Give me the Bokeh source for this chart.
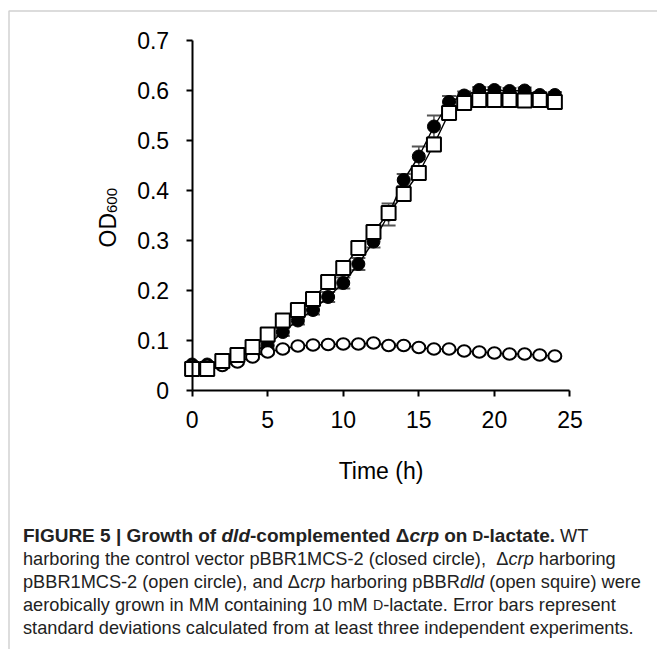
import math
from bokeh.plotting import figure
from bokeh.models import (Label, Range1d, FixedTicker, PolyAnnotation, Whisker,
                          ColumnDataSource, TeeHead, CustomJSTickFormatter)
from bokeh.embed import file_html
from bokeh.resources import INLINE

# ---------------- data ----------------
time_h = list(range(25))
wt_closed = [0.052, 0.052, 0.054, 0.064, 0.079, 0.090, 0.117, 0.140, 0.161, 0.187,
             0.215, 0.253, 0.298, 0.352, 0.421, 0.468, 0.528, 0.577, 0.590, 0.601,
             0.601, 0.599, 0.600, 0.591, 0.591]
wt_err = [0.004, 0.004, 0.004, 0.005, 0.006, 0.007, 0.008, 0.008, 0.009, 0.010,
          0.011, 0.012, 0.012, 0.022, 0.012, 0.020, 0.022, 0.012, 0.008, 0.006,
          0.006, 0.006, 0.006, 0.006, 0.006]
crp_open = [0.050, 0.050, 0.050, 0.057, 0.067, 0.077, 0.083, 0.089, 0.091, 0.092,
            0.093, 0.093, 0.095, 0.090, 0.090, 0.086, 0.083, 0.083, 0.079, 0.077,
            0.075, 0.073, 0.073, 0.071, 0.069]
crp_err = [0.003] * 25
dld_square = [0.043, 0.043, 0.059, 0.071, 0.087, 0.112, 0.140, 0.161, 0.183, 0.217,
              0.245, 0.285, 0.317, 0.355, 0.393, 0.435, 0.492, 0.555, 0.575, 0.581,
              0.581, 0.581, 0.580, 0.581, 0.577]
dld_err = [0.004, 0.004, 0.004, 0.005, 0.005, 0.006, 0.007, 0.007, 0.008, 0.008,
           0.009, 0.010, 0.010, 0.012, 0.012, 0.012, 0.012, 0.010, 0.008, 0.006,
           0.006, 0.006, 0.006, 0.006, 0.006]
x_ticks = [0, 5, 10, 15, 20, 25]
y_ticks = [0, 0.1, 0.2, 0.3, 0.4, 0.5, 0.6, 0.7]

# ---------------- layout constants ----------------
W, H = 657, 649
X0, SX = 191.6, 15.115      # pixel of x = 0, pixels per hour
Y0, SY = 390.0, 500.0       # pixel of y = 0, pixels per OD unit


def dx(px):
    return (px - X0) / SX


def dy(py):
    return (Y0 - py) / SY


FONT = "Liberation Sans"

p = figure(width=W, height=H, output_backend="svg", toolbar_location=None,
           x_range=Range1d(dx(0), dx(W)), y_range=Range1d(dy(H), dy(0)),
           min_border=0, min_border_left=0, min_border_right=0,
           min_border_top=0, min_border_bottom=0)
p.xgrid.visible = False
p.ygrid.visible = False
p.outline_line_color = None
p.background_fill_color = "white"
p.border_fill_color = "white"

for ax in (p.xaxis[0], p.yaxis[0]):
    ax.axis_line_width = 2
    ax.axis_line_color = "black"
    ax.major_tick_line_width = 2
    ax.major_tick_line_color = "black"
    ax.major_tick_out = 6
    ax.major_tick_in = 0
    ax.minor_tick_line_color = None
    ax.major_label_text_font = FONT
    ax.major_label_text_font_size = "23px"
    ax.major_label_text_color = "black"
    ax.fixed_location = 0

p.xaxis.bounds = (0, 25)
p.xaxis.ticker = FixedTicker(ticks=x_ticks)
p.xaxis.major_label_standoff = 14
p.yaxis.bounds = (0, 0.7)
p.yaxis.ticker = FixedTicker(ticks=y_ticks)
p.yaxis.formatter = CustomJSTickFormatter(
    code="return Math.abs(tick) < 1e-9 ? '0' : tick.toFixed(1);")
p.yaxis.major_label_standoff = 17

# error bars
for vals, errs in ((wt_closed, wt_err), (crp_open, crp_err), (dld_square, dld_err)):
    src = ColumnDataSource(dict(t=time_h,
                                up=[v + e for v, e in zip(vals, errs)],
                                lo=[v - e for v, e in zip(vals, errs)]))
    wk = Whisker(base="t", upper="up", lower="lo", source=src,
                 line_color="#555555", line_width=1.5, level="underlay",
                 upper_head=TeeHead(size=14, line_color="#555555", line_width=2),
                 lower_head=TeeHead(size=14, line_color="#555555", line_width=2))
    p.add_layout(wk)

# lines
for vals in (wt_closed, crp_open, dld_square):
    p.line(time_h, vals, line_color="black", line_width=1.4)

p.scatter(time_h, wt_closed, marker="circle", size=13, fill_color="black",
          line_color="black", line_width=1)
p.ellipse(time_h, crp_open, width=13, height=11.5, width_units="screen",
          height_units="screen", fill_color="white", line_color="black",
          line_width=2)
p.scatter(time_h, dld_square, marker="square", size=14, fill_color="white",
          line_color="black", line_width=2)

# axis titles
p.add_layout(Label(x=12.5, y=dy(470), text="Time (h)", text_font=FONT,
                   text_font_size="23px", text_align="center",
                   text_baseline="alphabetic", text_color="black"))
p.add_layout(Label(x=dx(107), y=dy(247), text="OD", text_font=FONT,
                   text_font_size="23px", angle=math.pi / 2, text_align="left",
                   text_baseline="alphabetic", text_color="black"))
p.add_layout(Label(x=dx(111), y=dy(247 - 34.5), text="600", text_font=FONT,
                   text_font_size="15px", angle=math.pi / 2, text_align="left",
                   text_baseline="alphabetic", text_color="black"))

# outer frame lines (top and left)
p.add_layout(PolyAnnotation(xs=[dx(8.5), dx(8.5), dx(760), dx(760)],
                            ys=[dy(760), dy(10.5), dy(10.5), dy(760)],
                            fill_color=None, fill_alpha=0, line_color="#666666",
                            line_width=1.5, level="overlay"))

# ---------------- caption ----------------
REG = {' ': 278, '!': 278, '(': 333, ')': 333, ',': 278, '-': 333, '.': 278, '|': 260,
       'A': 667, 'B': 667, 'C': 722, 'D': 722, 'E': 667, 'F': 611, 'G': 778, 'H': 722,
       'I': 278, 'J': 500, 'K': 667, 'L': 556, 'M': 833, 'N': 722, 'O': 778, 'P': 667,
       'Q': 778, 'R': 722, 'S': 667, 'T': 611, 'U': 722, 'V': 667, 'W': 944, 'X': 667,
       'Y': 667, 'Z': 611, 'a': 556, 'b': 556, 'c': 500, 'd': 556, 'e': 556, 'f': 278,
       'g': 556, 'h': 556, 'i': 222, 'j': 222, 'k': 500, 'l': 222, 'm': 833, 'n': 556,
       'o': 556, 'p': 556, 'q': 556, 'r': 333, 's': 500, 't': 278, 'u': 556, 'v': 500,
       'w': 722, 'x': 500, 'y': 500, 'z': 500, '\u0394': 667}
BOLD = {' ': 278, '(': 333, ')': 333, ',': 278, '-': 333, '.': 278, '|': 280,
        'A': 722, 'B': 722, 'C': 722, 'D': 722, 'E': 667, 'F': 611, 'G': 778, 'H': 722,
        'I': 278, 'J': 556, 'K': 722, 'L': 611, 'M': 833, 'N': 722, 'O': 778, 'P': 667,
        'Q': 778, 'R': 722, 'S': 667, 'T': 611, 'U': 722, 'V': 667, 'W': 944, 'X': 667,
        'Y': 667, 'Z': 611, 'a': 556, 'b': 611, 'c': 556, 'd': 611, 'e': 556, 'f': 333,
        'g': 611, 'h': 611, 'i': 278, 'j': 278, 'k': 556, 'l': 278, 'm': 889, 'n': 611,
        'o': 611, 'p': 611, 'q': 611, 'r': 389, 's': 556, 't': 333, 'u': 611, 'v': 556,
        'w': 778, 'x': 556, 'y': 556, 'z': 500, '\u0394': 722}


def text_width(s, bold, size):
    table = BOLD if bold else REG
    return sum(table.get(c, 556) for c in s) / 1000.0 * size


RS = 18.2   # regular caption size
BS = 19.0   # bold caption size
SC = 0.78   # small-caps ratio

caption_lines = [
    (535, [("FIGURE 5 | Growth of", True, False, BS),
           (" dld", True, True, BS),
           ("-complemented \u0394", True, False, BS),
           ("crp", True, True, BS),
           (" on", True, False, BS),
           (" D", True, False, BS * SC),
           ("-lactate.", True, False, BS),
           (" WT", False, False, RS)]),
    (558, [("harboring the control vector pBBR1MCS-2 (closed circle),", False, False, RS),
           ("  \u0394", False, False, RS),
           ("crp", False, True, RS),
           (" harboring", False, False, RS)]),
    (581, [("pBBR1MCS-2 (open circle), and \u0394", False, False, RS),
           ("crp", False, True, RS),
           (" harboring pBBR", False, False, RS),
           ("dld", False, True, RS),
           (" (open squire) were", False, False, RS)]),
    (604, [("aerobically grown in MM containing 10 mM", False, False, RS),
           (" D", False, False, RS * SC),
           ("-lactate. Error bars represent", False, False, RS)]),
    (627, [("standard deviations calculated from at least three independent experiments.",
            False, False, RS)]),
]

for base_y, segs in caption_lines:
    xpos = 22.5
    for txt, bold, ital, size in segs:
        style = ("bold " if bold else "") + ("italic" if ital else "")
        style = style.strip() or "normal"
        body = txt.lstrip(" ")
        lead = len(txt) - len(body)
        # spaces are measured at the surrounding text size
        lead_w = text_width(" " * lead, bold, RS if size < RS * 0.9 else size)
        p.add_layout(Label(x=dx(xpos + lead_w), y=dy(base_y), text=body,
                           text_font=FONT, text_font_size=f"{size:.1f}px",
                           text_font_style=style, text_align="left",
                           text_baseline="alphabetic", text_color="#222222"))
        xpos += lead_w + text_width(body, bold, size)

open("out.html", "w").write(file_html(p, INLINE))
